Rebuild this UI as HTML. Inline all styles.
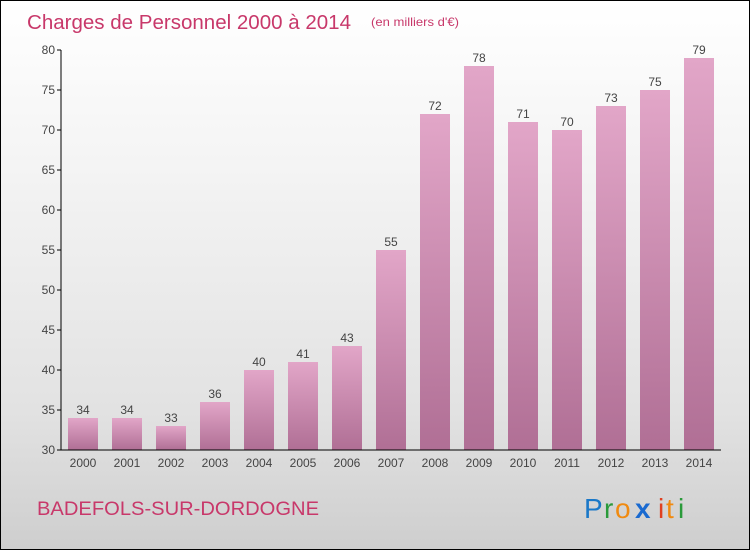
<!DOCTYPE html>
<html><head><meta charset="utf-8"><style>
body{margin:0}
#c{position:relative;width:748px;height:548px;border:1px solid #000;background:linear-gradient(#ffffff,#f4f4f4 30%,#e2e2e2 75%,#cecece);font-family:"Liberation Sans",sans-serif;overflow:hidden}
svg text{font-family:"Liberation Sans",sans-serif}
</style></head><body>
<div id="c">
<svg id="s" width="748" height="548">
<defs><linearGradient id="g" x1="0" y1="0" x2="0" y2="1"><stop offset="0" stop-color="#e2a6c8"/><stop offset="1" stop-color="#b06f95"/></linearGradient></defs>
<text x="26" y="28" font-size="20" fill="#c8386a" textLength="324" lengthAdjust="spacingAndGlyphs">Charges de Personnel 2000 à 2014</text>
<text x="370" y="25" font-size="12" fill="#c8386a" textLength="88" lengthAdjust="spacingAndGlyphs">(en milliers d'€)</text>
<text x="36" y="514" font-size="19" fill="#c8386a" textLength="282" lengthAdjust="spacingAndGlyphs">BADEFOLS-SUR-DORDOGNE</text>
<g font-size="28">
<text x="583" y="517" fill="#1a78c8">P</text><text x="603" y="517" fill="#2a9a3a">r</text><text x="614" y="517" fill="#f08a10">o</text><text x="634" y="517" fill="#1a6ad0" font-weight="bold">x</text><text x="657" y="517" fill="#e04020">i</text><text x="665" y="517" fill="#f08a10">t</text><text x="677" y="517" fill="#2a9a3a">i</text>
</g>
</svg>
</div>
<script>
const categories=["2000","2001","2002","2003","2004","2005","2006","2007","2008","2009","2010","2011","2012","2013","2014"];
const values=[34,34,33,36,40,41,43,55,72,78,71,70,73,75,79];
const ticks=[30,35,40,45,50,55,60,65,70,75,80];
const s=document.getElementById('s');const NS="http://www.w3.org/2000/svg";
const x0=60,band=44,yMin=30,yMax=80,yTop=49,yBot=449;
const y=v=>yBot-(v-yMin)/(yMax-yMin)*(yBot-yTop);
const xc=i=>x0+band*i+band/2;
function mk(t,a){const e=document.createElementNS(NS,t);for(const k in a)e.setAttribute(k,a[k]);s.appendChild(e);return e;}
values.forEach((v,i)=>{
const r=mk('rect',{x:xc(i)-15,y:y(v),width:30,height:yBot-y(v),fill:'url(#g)'});


const t=mk('text',{x:xc(i),y:y(v)-4,'font-size':12,fill:'#444','text-anchor':'middle'});t.textContent=v;


const c=mk('text',{x:xc(i),y:466,'font-size':12,fill:'#444','text-anchor':'middle'});c.textContent=categories[i];


});
ticks.forEach(v=>{
mk('line',{x1:x0-4,x2:x0,y1:y(v),y2:y(v),stroke:'#000'});
const t=mk('text',{x:x0-6,y:y(v)+4,'font-size':12,fill:'#444','text-anchor':'end'});t.textContent=v;


});
const ya=mk('line',{x1:x0,x2:x0,y1:yTop,y2:yBot,stroke:'#000'});


const xa=mk('line',{x1:x0,x2:x0+band*categories.length,y1:yBot,y2:yBot,stroke:'#000'});


</script>
</body></html>
